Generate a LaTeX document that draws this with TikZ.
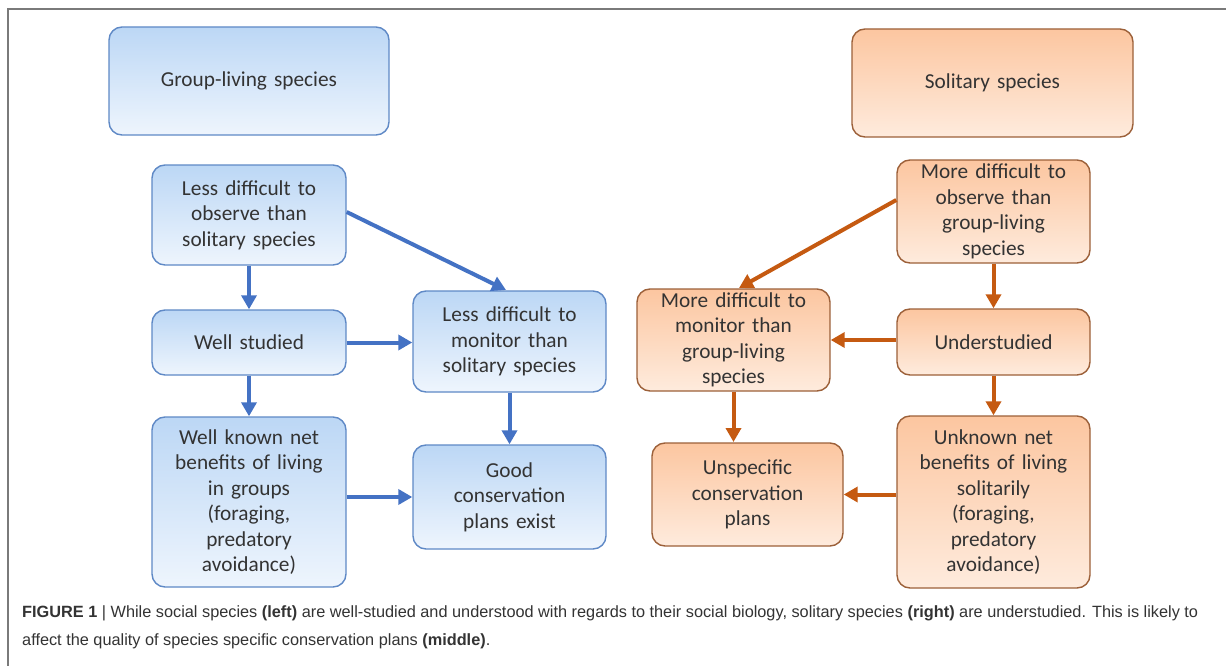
\documentclass[tikz,border=0pt]{standalone}
\usepackage{fontspec}
\setmainfont{Carlito}
\newfontfamily\capfont{Liberation Sans}
\usetikzlibrary{arrows.meta}
\definecolor{bluetop}{HTML}{BCD7F5}
\definecolor{bluebot}{HTML}{EEF5FD}
\definecolor{blueedge}{HTML}{5F89C6}
\definecolor{bluearrow}{HTML}{4472C4}
\definecolor{orgtop}{HTML}{FCC6A0}
\definecolor{orgbot}{HTML}{FEEBDD}
\definecolor{orgedge}{HTML}{9C6039}
\definecolor{orgarrow}{HTML}{C55A11}
\definecolor{txt}{HTML}{333333}
\definecolor{captxt}{HTML}{333333}
\definecolor{frame}{HTML}{7A7A7A}
\tikzset{
  box/.style={draw, line width=1.4pt, rounded corners=13pt, align=center,
    text=txt, font=\fontsize{21.3}{25.5}\selectfont, inner sep=0pt},
  bluebox/.style={box, draw=blueedge, top color=bluetop, bottom color=bluebot},
  orgbox/.style={box, draw=orgedge, top color=orgtop, bottom color=orgbot},
  sz/.style args={#1x#2}{minimum width=#1pt, minimum height=#2pt, text width=#1pt-8pt},
  barrow/.style={draw=bluearrow, line width=4pt, -{Triangle[length=14pt,width=15pt]}},
  oarrow/.style={draw=orgarrow, line width=4pt, -{Triangle[length=14pt,width=15pt]}},
}
\begin{document}
\begin{tikzpicture}[x=1pt,y=-1pt]
\useasboundingbox (0,0) rectangle (1226,666);
\fill[white] (0,0) rectangle (1226,666);
\draw[frame, line width=1.5pt] (8,666) coordinate (fl) -- (8,9) coordinate (fc) -- (1226,9) coordinate (fr);
% left column
\node[bluebox, sz=280x108] (grp) at (249,81) {Group-living species};
\node[bluebox, sz=194x100] (obs) at (249,215) {Less difficult to\\observe than\\solitary species};
\node[bluebox, sz=194x65] (ws) at (249,342.5) {Well studied};
\node[bluebox, sz=194x170] (wk) at (249,502) {Well known net\\benefits of living\\in groups\\(foraging,\\predatory\\avoidance)};
\node[bluebox, sz=193x101] (mon) at (509.5,341.5) {Less difficult to\\monitor than\\solitary species};
\node[bluebox, sz=193x104] (good) at (509.5,497) {Good\\conservation\\plans exist};
% right column
\node[orgbox, sz=281x108] (sol) at (992.5,83) {Solitary species};
\node[orgbox, sz=193x103] (mobs) at (993.5,211.5) {More difficult to\\observe than\\group-living\\species};
\node[orgbox, sz=193x66] (us) at (993.5,342) {Understudied};
\node[orgbox, sz=193x172] (un) at (993.5,502) {Unknown net\\benefits of living\\solitarily\\(foraging,\\predatory\\avoidance)};
\node[orgbox, sz=193x102] (mmon) at (733.5,340) {More difficult to\\monitor than\\group-living\\species};
\node[orgbox, sz=191x103] (unsp) at (747.5,494.5) {Unspecific\\conservation\\plans};
% blue arrows
\draw[barrow] (obs.south) -- (ws.north);
\draw[barrow] (ws.south) -- (wk.north);
\draw[barrow] (obs.east |- 0,212) -- (506,290);
\draw[barrow] (ws.east) -- (ws.east -| mon.west);
\draw[barrow] (mon.south) -- (good.north);
\draw[barrow] (wk.east |- good.west) -- (good.west);
% orange arrows
\draw[oarrow] (mobs.west |- 0,200) -- (739,288);
\draw[oarrow] (mobs.south) -- (us.north);
\draw[oarrow] (us.west |- mmon.east) -- (mmon.east);
\draw[oarrow] (us.south) -- (un.north);
\draw[oarrow] (mmon.south -| 733.5,0) -- (733.5,442);
\draw[oarrow] (un.west |- unsp.east) -- (unsp.east);
% caption
\node[anchor=west, text=captxt, inner sep=0pt, font=\capfont\fontsize{16.3}{28}\selectfont, align=left] (cap) at (22,627)
{\textbf{FIGURE 1} | While social species \textbf{(left)} are well-studied and understood with regards to their social biology, solitary species \textbf{(right)} are understudied. This is likely to\\
affect the quality of species specific conservation plans \textbf{(middle)}.};
\end{tikzpicture}
\end{document}
